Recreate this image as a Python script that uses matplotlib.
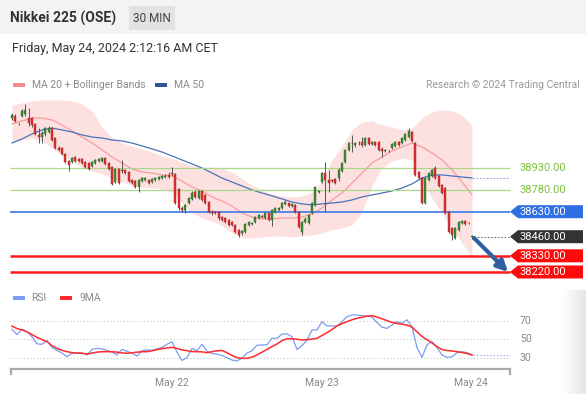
import numpy as np
import matplotlib
matplotlib.use('Agg')
import matplotlib.pyplot as plt
from matplotlib.patches import Rectangle, Polygon, FancyArrowPatch

plt.rcParams['font.family'] = ['Roboto', 'DejaVu Sans']

# 30 min candles
opens = [39267, 39281, 39227, 39281, 39295, 39267, 39267, 39227, 39152, 39138,
         39159, 39172, 39199, 39131, 39063, 39063, 39023, 38975, 38968, 39002,
         38989, 38989, 38968, 38961, 38941, 38961, 38975, 38975, 38995, 38961,
         38934, 38832, 38921, 38914, 38914, 38900, 38846, 38839, 38798, 38839,
         38846, 38846, 38832, 38846, 38853, 38859, 38866, 38880, 38893, 38887,
         38785, 38655, 38642, 38689, 38717, 38764, 38723, 38771, 38744, 38696,
         38628, 38628, 38628, 38594, 38587, 38574, 38560, 38540, 38506, 38485,
         38492, 38540, 38547, 38560, 38587, 38601, 38587, 38621, 38574, 38628,
         38642, 38655, 38683, 38689, 38669, 38676, 38628, 38492, 38560, 38553,
         38621, 38676, 38764, 38832, 38893, 38846, 38846, 38853, 38859, 38907,
         38968, 39050, 39097, 39084, 39097, 39104, 39084, 39131, 39091, 39104,
         39104, 39057, 39043, 39043, 39063, 39077, 39104, 39097, 39118, 39138,
         39172, 39097, 38900, 38859, 38689, 38846, 38873, 38927, 38873, 38812,
         38791, 38628, 38519, 38451, 38506, 38553, 38567, 38553, 38458]
closes = [39288, 39247, 39224, 39315, 39322, 39233, 39220, 39159, 39138, 39165,
          39199, 39199, 39118, 39063, 39050, 39023, 38968, 38948, 38995, 38975,
          38975, 38961, 38934, 38921, 38968, 38982, 38989, 38995, 38955, 38921,
          38819, 38921, 38825, 38907, 38893, 38839, 38825, 38798, 38846, 38859,
          38859, 38825, 38853, 38859, 38866, 38873, 38873, 38866, 38887, 38689,
          38655, 38642, 38676, 38723, 38757, 38730, 38771, 38710, 38689, 38628,
          38621, 38621, 38587, 38574, 38560, 38540, 38540, 38492, 38472, 38499,
          38547, 38560, 38553, 38594, 38608, 38594, 38621, 38574, 38642, 38655,
          38655, 38689, 38696, 38669, 38683, 38628, 38526, 38560, 38581, 38608,
          38689, 38798, 38771, 38893, 38846, 38825, 38839, 38825, 38914, 38961,
          39050, 39097, 39094, 39097, 39094, 39084, 39131, 39091, 39104, 39084,
          39050, 39043, 39050, 39040, 39091, 39104, 39084, 39131, 39159, 39179,
          39111, 38880, 38859, 38689, 38859, 38893, 38914, 38859, 38805, 38757,
          38621, 38492, 38472, 38519, 38560, 38567, 38547, 38550, 38460]
highs = [39301, 39295, 39233, 39329, 39363, 39335, 39274, 39233, 39199, 39179,
         39206, 39213, 39206, 39138, 39077, 39070, 39029, 38982, 39002, 39009,
         38995, 38995, 38975, 38968, 38975, 38989, 38995, 39002, 39002, 38968,
         38941, 38927, 38927, 38982, 38921, 38907, 38853, 38846, 38853, 38866,
         38866, 38853, 38859, 38866, 38873, 38880, 38887, 38900, 38934, 38893,
         38791, 38669, 38683, 38730, 38771, 38778, 38778, 38778, 38751, 38703,
         38642, 38635, 38635, 38601, 38594, 38581, 38567, 38547, 38513, 38506,
         38553, 38567, 38560, 38601, 38615, 38608, 38628, 38628, 38649, 38662,
         38662, 38696, 38710, 38696, 38689, 38683, 38635, 38567, 38594, 38615,
         38696, 38805, 38778, 38900, 38968, 38914, 38853, 38859, 38927, 38968,
         39057, 39104, 39152, 39104, 39111, 39138, 39138, 39138, 39111, 39111,
         39111, 39070, 39057, 39050, 39097, 39111, 39111, 39138, 39165, 39199,
         39179, 39104, 38907, 38866, 38866, 38900, 38921, 38941, 38880, 38819,
         38798, 38635, 38526, 38526, 38567, 38574, 38574, 38560, 38472]
lows = [39254, 39240, 39220, 39274, 39281, 39213, 39206, 39152, 39097, 39097,
        39145, 39165, 39111, 39057, 39043, 39016, 38961, 38907, 38961, 38968,
        38968, 38955, 38927, 38914, 38934, 38955, 38968, 38968, 38948, 38914,
        38812, 38825, 38819, 38893, 38887, 38832, 38819, 38791, 38764, 38832,
        38839, 38819, 38825, 38839, 38846, 38853, 38859, 38859, 38873, 38683,
        38642, 38628, 38621, 38683, 38710, 38723, 38717, 38703, 38683, 38621,
        38608, 38615, 38574, 38567, 38553, 38533, 38533, 38485, 38458, 38472,
        38485, 38533, 38540, 38553, 38581, 38587, 38581, 38567, 38533, 38621,
        38635, 38649, 38676, 38662, 38662, 38621, 38519, 38472, 38553, 38547,
        38615, 38669, 38757, 38825, 38628, 38764, 38832, 38819, 38839, 38900,
        38961, 39043, 39036, 39070, 39084, 39070, 39077, 39084, 39084, 39077,
        39043, 39002, 39036, 39036, 39057, 39070, 39077, 39091, 39111, 39131,
        39104, 38873, 38853, 38683, 38683, 38839, 38866, 38853, 38798, 38751,
        38615, 38485, 38438, 38445, 38499, 38547, 38540, 38547, 38445]

# indicator lines, sampled every 3 candles
bb_upper = [39356, 39370, 39383, 39390, 39390, 39390, 39383, 39363, 39315, 39206,
            39131, 39097, 39077, 39057, 39036, 39009, 38995, 38968, 38941, 38934,
            38934, 38927, 38900, 38853, 38812, 38778, 38751, 38737, 38730, 38737,
            38764, 38839, 38982, 39077, 39186, 39240, 39247, 39220, 39206, 39186,
            39199, 39267, 39308, 39322, 39315, 39288, 39220]
bb_lower = [39104, 39118, 39131, 39111, 39063, 39016, 38975, 38934, 38907, 38887,
            38859, 38832, 38812, 38798, 38791, 38785, 38764, 38689, 38621, 38587,
            38567, 38533, 38485, 38451, 38451, 38458, 38465, 38465, 38458, 38465,
            38472, 38485, 38506, 38519, 38540, 38628, 38805, 38927, 38975, 38995,
            38982, 38832, 38723, 38621, 38519, 38418, 38316]
ma20 = [39227, 39247, 39267, 39267, 39254, 39220, 39179, 39138, 39097, 39050,
        39002, 38961, 38921, 38900, 38893, 38880, 38873, 38839, 38798, 38771,
        38730, 38703, 38669, 38621, 38594, 38581, 38581, 38587, 38587, 38594,
        38615, 38655, 38710, 38757, 38825, 38893, 38961, 39002, 39043, 39070,
        39097, 39070, 39029, 38982, 38914, 38832, 38744]
ma50 = [39097, 39125, 39159, 39186, 39199, 39186, 39172, 39152, 39138, 39131,
        39118, 39111, 39097, 39077, 39057, 39036, 39009, 38982, 38955, 38927,
        38893, 38859, 38832, 38805, 38778, 38757, 38737, 38717, 38696, 38683,
        38676, 38683, 38689, 38696, 38710, 38730, 38744, 38757, 38771, 38791,
        38819, 38859, 38880, 38880, 38873, 38866, 38859]

# RSI panel, sampled every 1.5 candles
rsi = [60.6, 55, 61, 58, 52.7, 45, 44.5, 48.5, 41, 38,
       35, 31, 34.7, 35.4, 35.4, 33, 39, 40, 39.5, 38,
       36, 33, 39, 37, 35, 31.8, 37.5, 38.5, 38, 39.5,
       41, 44.5, 47.3, 36, 27, 30, 40, 37.6, 44.5, 37,
       34.5, 33.8, 32.5, 30, 27.5, 26.5, 29.5, 35, 37.5, 43.5,
       43.7, 44, 51, 51, 55.5, 55.8, 52.7, 39, 43, 49,
       60, 60, 69, 64.3, 64.3, 64.3, 69, 74.4, 76.2, 76.2,
       75.4, 75, 74, 68, 63, 61.7, 65.3, 69, 67.2, 71,
       63.5, 41, 30.4, 44, 47.3, 41, 33, 30.4, 31, 35.4,
       36.5, 35.4, 33]
rsi_ma9 = [64.2, 61.5, 60, 58, 55, 52, 49.5, 47.3, 43, 40,
           38, 36.5, 35.5, 35, 34.7, 34, 35, 36, 36.5, 36.5,
           36.5, 36, 35.2, 34.7, 35.3, 36, 36.5, 36.5, 37.5, 38.7,
           39.8, 40.5, 41.2, 40, 38.5, 37.6, 36.6, 36.5, 36.3, 35.4,
           36.5, 37.5, 37.8, 35.4, 32.5, 30, 29.3, 29.3, 30.6, 33,
           36, 39, 42, 44.8, 48.5, 50.5, 50.5, 49.9, 49.2, 49.5,
           50.2, 51, 54, 57, 60.5, 64.3, 66.8, 69, 71, 72.6,
           73.8, 75, 75.4, 74, 72, 70.1, 68.2, 67, 66.2, 65.3,
           63, 58, 53, 49.5, 46, 42, 38.8, 37.8, 37.3, 36.5,
           35.6, 34.5, 33]
rsi_levels = [70, 50, 30]

resistances = [38930, 38780]
pivot = 38630
last_price = 38460
targets = [38330, 38220]

day_labels = ['May 22', 'May 23', 'May 24']
day_pos = [48, 93, 137.7]

W, H = 586, 394
fig = plt.figure(figsize=(W / 100, H / 100), dpi=100)


def ix(px):
    # pixel column -> candle index
    return (px - 12) * 0.3


# background layer in pixel coords for header / legends
bg = fig.add_axes([0, 0, 1, 1])
bg.set_xlim(0, W)
bg.set_ylim(H, 0)
bg.axis('off')
bg.add_patch(Rectangle((0, 0), W, 34, fc='#f3f3f3', ec='none'))
bg.add_patch(Rectangle((129, 6), 46, 24, fc='#e2e2e2', ec='none'))
bg.text(10, 18, 'Nikkei 225 (OSE)', fontsize=10, weight='bold', color='#333333', va='center')
bg.text(152, 18, '30 MIN', fontsize=8.5, color='#444444', ha='center', va='center')
bg.text(12, 48, 'Friday, May 24, 2024 2:12:16 AM CET', fontsize=9, color='#333333', va='center')
bg.add_patch(Rectangle((13, 83), 12, 4, fc='#f28b8b', ec='none'))
bg.text(32, 85, 'MA 20 + Bollinger Bands', fontsize=7.5, color='#8a8a8a', va='center')
bg.add_patch(Rectangle((155, 83), 12, 4, fc='#2f5597', ec='none'))
bg.text(174, 85, 'MA 50', fontsize=7.5, color='#8a8a8a', va='center')
bg.text(580, 85, 'Research \u00a9 2024 Trading Central', fontsize=7.5, color='#999999',
        ha='right', va='center')
bg.add_patch(Rectangle((13, 296), 12, 4, fc='#7b9cf0', ec='none'))
bg.text(31, 298, 'RSI', fontsize=7.5, color='#8a8a8a', va='center')
bg.add_patch(Rectangle((60, 296), 12, 4, fc='#ff2a2a', ec='none'))
bg.text(79, 298, '9MA', fontsize=7.5, color='#8a8a8a', va='center')
grad = np.zeros((2, 40, 4))
grad[..., :3] = 0.9
grad[..., 3] = np.linspace(0, 1, 40)
bg.imshow(grad, extent=(562, 586, 394, 290), aspect='auto', zorder=0)
bg.set_xlim(0, W)
bg.set_ylim(H, 0)

# main price panel
ax = fig.add_axes([10 / W, 1 - 282 / H, 576 / W, 187 / H])
ax.patch.set_alpha(0)
ax.axis('off')
ax.set_xlim(ix(10), ix(586))
ax.set_ylim(40069.56 - 6.8 * 282, 40069.56 - 6.8 * 95)

o = np.array(opens)
c = np.array(closes)
hi = np.array(highs)
lo = np.array(lows)
idx = np.arange(len(c))
line_idx = np.arange(0, len(c), 3)

ax.fill_between(line_idx, bb_lower, bb_upper, color='#fde1e1', lw=0, zorder=1)
ax.plot(line_idx, ma20, color='#f59c9c', lw=0.9, zorder=2)
ax.plot(line_idx, ma50, color='#4a72b8', lw=0.9, zorder=2)
ax.hlines(ma50[-1], ix(473), ix(510), color='#8ea6d8', lw=0.8, linestyles=(0, (1.5, 1.5)), zorder=2)

for lvl in resistances:
    ax.hlines(lvl, ix(10), ix(510), color='#a9d88b', lw=0.9, zorder=2)
    ax.text(ix(519), lvl, f'{lvl:.2f}', color='#7cc142', fontsize=8, va='center')
ax.hlines(pivot, ix(10), ix(510), color='#3b78e7', lw=1.2, zorder=2)
for lvl in targets:
    ax.hlines(lvl, ix(10), ix(510), color='#ff1a1a', lw=1.8, zorder=2)
ax.hlines(last_price, ix(474), ix(510), color='#777777', lw=0.8, linestyles=(0, (1.5, 1.5)), zorder=2)

up = c >= o
ax.vlines(idx, lo, hi, color='#555555', lw=0.7, zorder=3)
ax.bar(idx, np.maximum(np.abs(c - o), 5), bottom=np.minimum(o, c), width=0.62,
       color=np.where(up, '#3d8b37', '#de3030'), edgecolor=np.where(up, '#2a6a27', '#a82020'),
       lw=0.3, zorder=4)


def tag(level, fc):
    hh = 6.5 * 6.8
    pts = [(ix(510), level), (ix(518), level + hh), (ix(583), level + hh),
           (ix(583), level - hh), (ix(518), level - hh)]
    ax.add_patch(Polygon(pts, closed=True, fc=fc, ec='none', zorder=5))
    ax.text(ix(519), level, f'{level:.2f}', color='white', fontsize=8, va='center', zorder=6)


tag(pivot, '#2f6fe4')
tag(last_price, '#333333')
for lvl in targets:
    tag(lvl, '#ff0a0a')

ax.add_patch(FancyArrowPatch((ix(474), 40069.56 - 6.8 * 238), (ix(508), 40069.56 - 6.8 * 272),
                             arrowstyle='-|>', mutation_scale=16, lw=3, color='#2e5f9f',
                             shrinkA=0, shrinkB=0, zorder=7))

# RSI panel
ax2 = fig.add_axes([10 / W, 1 - 369.3 / H, 576 / W, 69.3 / H])
ax2.patch.set_alpha(0)
ax2.set_xlim(ix(10), ix(586))
ax2.set_ylim(30 - 11.6 / 0.925, 30 + 57.7 / 0.925)
rsi_idx = np.arange(0, len(c), 1.5)
ax2.hlines(rsi_levels, ix(10), ix(510), color='#c8c8c8', lw=0.8, linestyles=(0, (1, 2)))
ax2.plot(rsi_idx, rsi, color='#7b9cf0', lw=0.9)
ax2.plot(rsi_idx, rsi_ma9, color='#ff2a2a', lw=1.1)
ax2.hlines(rsi[-1], ix(473), ix(510), color='#9fb5f0', lw=0.8, linestyles=(0, (1.5, 1.5)))
for v in rsi_levels:
    ax2.text(ix(520), v, str(v), color='#888888', fontsize=7.5, va='center')

for s in ['top', 'left', 'right']:
    ax2.spines[s].set_visible(False)
ax2.spines['bottom'].set_bounds(ix(10.5), ix(509.5))
ax2.spines['bottom'].set_color('#aaaaaa')
ax2.spines['bottom'].set_linewidth(1.6)
ax2.set_yticks([])
ax2.set_xticks([ix(10.5), ix(509.5)])
ax2.set_xticklabels(['', ''])
ax2.tick_params(axis='x', which='major', length=4, width=1.6, color='#aaaaaa', direction='out')
ax2.set_xticks(day_pos, minor=True)
ax2.set_xticklabels(day_labels, minor=True)
ax2.tick_params(axis='x', which='minor', length=0, pad=6, labelcolor='#888888', labelsize=7.5)

fig.savefig('out.png', dpi=100)
